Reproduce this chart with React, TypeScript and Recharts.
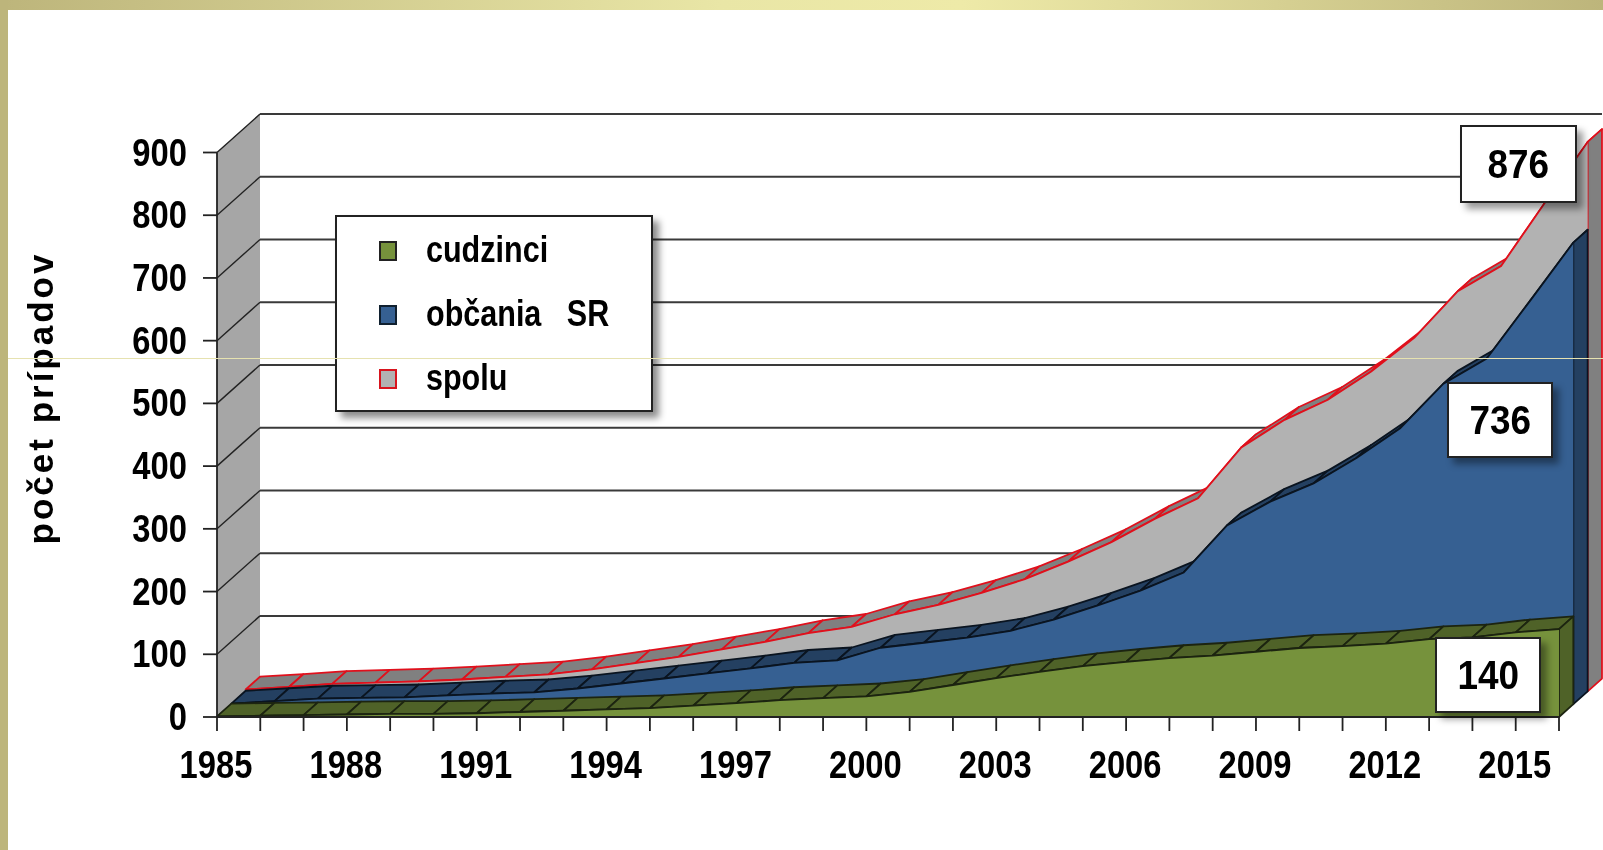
import React from 'react';
import { AreaChart, Area, XAxis, YAxis, CartesianGrid } from 'recharts';

const years = ['1985','1986','1987','1988','1989','1990','1991','1992','1993','1994','1995','1996','1997','1998','1999','2000','2001','2002','2003','2004','2005','2006','2007','2008','2009','2010','2011','2012','2013','2014','2015','2016'];
const cudzinci = [1,2,3,4,5,5,6,8,10,12,14,18,22,27,30,33,40,51,62,72,81,88,94,98,104,110,113,117,124,127,135,140];
const obcania = [1,5,9,10,11,14,17,19,25,33,41,49,57,66,70,90,98,106,117,135,157,181,210,285,323,352,393,440,511,551,643,736];
const spolu = [3,7,12,14,16,19,23,27,35,45,55,67,79,93,103,123,138,157,179,207,238,275,308,389,433,465,510,564,638,678,778,876];
const yTicks = [0,100,200,300,400,500,600,700,800,900];
const labelledYears = ['1985','1988','1991','1994','1997','2000','2003','2006','2009','2012','2015'];
const legendNames = ['cudzinci','občania   SR','spolu'];
const endLabels = ['876','736','140'];

const W = 1603, H = 850;
const L = 217, R = 1559, T = 152.5, B = 717;
const STEP_X = 14.33, STEP_Y = 12.8;
const FONT = '"Liberation Sans", Arial, sans-serif';

const data = years.map((year, i) => ({ year, cudzinci: cudzinci[i], obcania: obcania[i], spolu: spolu[i] }));

const layers = [
  { key: 'spolu', k: 2, face: '#b2b2b2', strip: '#808080', line: '#e0101c', lw: 1.8 },
  { key: 'obcania', k: 1, face: '#366092', strip: '#244061', line: '#0a1420', lw: 1.8 },
  { key: 'cudzinci', k: 0, face: '#76923c', strip: '#4f6228', line: '#1c2410', lw: 1.8 },
];

const abs: React.CSSProperties = { position: 'absolute', left: 0, top: 0 };

function marginFor(k: number) {
  return { left: L + k * STEP_X, right: W - (R + k * STEP_X), top: T - k * STEP_Y, bottom: H - (B - k * STEP_Y) };
}

function stripDot(layer: typeof layers[number]) {
  return (p: any) => {
    const { cx, cy, index, points } = p;
    const base = B - layer.k * STEP_Y;
    const next = points && points[index + 1];
    const pts = next
      ? `${cx},${cy} ${next.x},${next.y} ${next.x + STEP_X},${next.y - STEP_Y} ${cx + STEP_X},${cy - STEP_Y}`
      : `${cx},${cy} ${cx + STEP_X},${cy - STEP_Y} ${cx + STEP_X},${base - STEP_Y} ${cx},${base}`;
    return <polygon key={`d-${layer.key}-${index}`} points={pts} fill={layer.strip} stroke={layer.line} strokeWidth={layer.lw} strokeLinejoin="round" />;
  };
}

const DX = STEP_X * 3, DY = STEP_Y * 3;

const wallLine = (p: any) => (
  <polygon key={`w-${p.index}-${p.y1}`} points={`${p.x1},${T} ${p.x1 + DX},${T - DY} ${p.x1 + DX},${B - DY} ${p.x1},${B}`} fill="#a6a6a6" stroke="none" />
);
const gridLine = (p: any) => (
  <g key={`g-${p.index}-${p.y1}`}>
    <line x1={p.x1} y1={p.y1} x2={p.x1 + DX} y2={p.y1 - DY} stroke="#222" strokeWidth={1.4} />
    <line x1={p.x1 + DX} y1={p.y1 - DY} x2={p.x2 + DX} y2={p.y1 - DY} stroke="#3a3a3a" strokeWidth={2} />
  </g>
);

const SQUEEZE = 0.84;

const xTick = (p: any) => {
  const v = p.payload.value;
  if (!labelledYears.includes(v)) return <g key={`xt-${v}`} />;
  return (
    <text key={`xt-${v}`} transform={`translate(${p.x - 1},${p.y + 47}) scale(${SQUEEZE},1)`} textAnchor="middle" fontFamily={FONT} fontWeight={700} fontSize={39} fill="#000">{v}</text>
  );
};
const yTick = (p: any) => (
  <text key={`yt-${p.payload.value}`} transform={`translate(${p.x},${p.y + 13}) scale(${SQUEEZE},1)`} textAnchor="end" fontFamily={FONT} fontWeight={700} fontSize={39} fill="#000">{p.payload.value}</text>
);

function Box({ x, y, w, h, text }: { x: number; y: number; w: number; h: number; text: string }) {
  return (
    <div style={{ position: 'absolute', left: x, top: y, width: w, height: h, boxSizing: 'border-box', background: '#fff', border: '2px solid #222', boxShadow: '6px 6px 7px rgba(0,0,0,0.4)', display: 'flex', alignItems: 'center', justifyContent: 'center', fontFamily: FONT, fontWeight: 700, fontSize: 41, color: '#000' }}>
      <span style={{ display: 'inline-block', transform: 'scaleX(0.9)' }}>{text}</span>
    </div>
  );
}

const legendSw = [
  { fill: '#76923c', border: '#222' },
  { fill: '#366092', border: '#10202f' },
  { fill: '#b2b2b2', border: '#d8141e' },
];

const axisStroke = { stroke: '#222', strokeWidth: 1.8 };

export default function App() {
  return (
    <div style={{ position: 'absolute', left: 0, top: 0, width: W, height: H, background: '#fff', overflow: 'hidden' }}>
      <div style={{ position: 'absolute', left: 0, top: 0, width: W, height: 10, background: 'linear-gradient(90deg,#bdb57b 0%,#e9e6a6 45%,#eeeaa8 60%,#bdb57b 100%)' }} />
      <div style={{ position: 'absolute', left: 0, top: 0, width: 8, height: H, background: '#bdb57b' }} />

      <div style={{ ...abs, width: W, height: H, filter: 'blur(0.5px)' }}>
        {/* back wall and grid */}
        <div style={abs}>
          <AreaChart width={W} height={H} data={data} margin={marginFor(0)}>
            <XAxis dataKey="year" hide scale="point" />
            <YAxis hide domain={[0, 900]} ticks={yTicks} />
            <CartesianGrid vertical={false} horizontal={wallLine} stroke="none" />
            <CartesianGrid vertical={false} horizontal={gridLine} />
            <Area dataKey="spolu" type="linear" fill="none" stroke="none" isAnimationActive={false} dot={false} activeDot={false} />
          </AreaChart>
        </div>

        {layers.map((layer) => (
          <React.Fragment key={layer.key}>
            <div style={abs}>
              <AreaChart width={W} height={H} data={data} margin={marginFor(layer.k)}>
                <XAxis dataKey="year" hide scale="point" />
                <YAxis hide domain={[0, 900]} ticks={yTicks} />
                <Area dataKey={layer.key} type="linear" fill="none" stroke="none" isAnimationActive={false} dot={stripDot(layer)} activeDot={false} />
              </AreaChart>
            </div>
            <div style={abs}>
              <AreaChart width={W} height={H} data={data} margin={marginFor(layer.k)}>
                <XAxis dataKey="year" hide scale="point" />
                <YAxis hide domain={[0, 900]} ticks={yTicks} />
                <Area dataKey={layer.key} type="linear" fill={layer.face} fillOpacity={1} stroke={layer.line} strokeWidth={layer.lw} isAnimationActive={false} dot={false} activeDot={false} />
              </AreaChart>
            </div>
          </React.Fragment>
        ))}

        {/* axes */}
        <div style={abs}>
          <AreaChart width={W} height={H} data={data} margin={{ left: L - 60, right: W - R, top: T, bottom: H - B - 60 }}>
            <XAxis
              dataKey="year"
              scale="point"
              height={60}
              interval={0}
              tickSize={14}
              tickMargin={0}
              axisLine={axisStroke}
              tickLine={axisStroke}
              tick={xTick}
            />
            <YAxis
              width={60}
              domain={[0, 900]}
              ticks={yTicks}
              interval={0}
              tickSize={14}
              tickMargin={16}
              axisLine={axisStroke}
              tickLine={axisStroke}
              tick={yTick}
            />
            <Area dataKey="spolu" type="linear" fill="none" stroke="none" isAnimationActive={false} dot={false} activeDot={false} />
          </AreaChart>
        </div>

        <svg width={W} height={H} style={{ ...abs, pointerEvents: 'none' }}>
          <text transform="translate(53,398) rotate(-90)" textAnchor="middle" fontFamily={FONT} fontWeight={700} fontSize={35} letterSpacing={3} fill="#000">počet prípadov</text>
        </svg>

        {/* legend */}
        <div style={{ position: 'absolute', left: 335, top: 215, width: 318, height: 197, boxSizing: 'border-box', background: '#fff', border: '2px solid #222', boxShadow: '6px 6px 7px rgba(0,0,0,0.45)' }}>
          {legendNames.map((n, i) => (
            <React.Fragment key={n}>
              <div style={{ position: 'absolute', left: 42, top: 24 + i * 64, width: 18, height: 20, boxSizing: 'border-box', background: legendSw[i].fill, border: `2px solid ${legendSw[i].border}` }} />
              <div style={{ position: 'absolute', left: 89, top: 10 + i * 64, whiteSpace: 'pre', fontFamily: FONT, fontWeight: 700, fontSize: 37, lineHeight: '46px', color: '#000', transform: 'scaleX(0.825)', transformOrigin: 'left center' }}>{n}</div>
            </React.Fragment>
          ))}
        </div>

        <Box x={1460} y={125} w={117} h={78} text={endLabels[0]} />
        <Box x={1447} y={382} w={106} h={76} text={endLabels[1]} />
        <Box x={1435} y={637} w={106} h={76} text={endLabels[2]} />
      </div>

      <div style={{ position: 'absolute', left: 8, top: 358, width: W - 8, height: 1, background: '#e6e2b0' }} />
    </div>
  );
}
